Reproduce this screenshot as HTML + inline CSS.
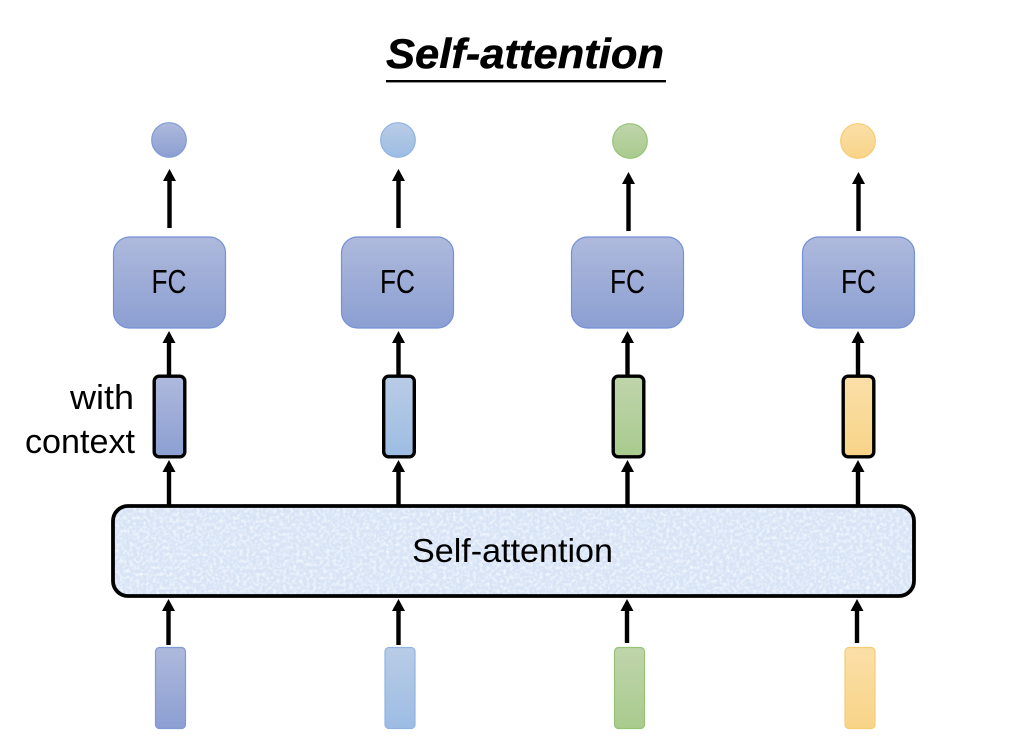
<!DOCTYPE html>
<html>
<head>
<meta charset="utf-8">
<style>
html,body{margin:0;padding:0;background:#fff;width:1024px;height:752px;overflow:hidden}
svg{display:block}
text{font-family:"Liberation Sans",sans-serif;fill:#000}
</style>
</head>
<body>
<svg width="1024" height="752" viewBox="0 0 1024 752" xmlns="http://www.w3.org/2000/svg">
<defs>
<linearGradient id="p" x1="0" y1="0" x2="0" y2="1"><stop offset="0" stop-color="#aeb9dc"/><stop offset="1" stop-color="#8c9fd2"/></linearGradient>
<linearGradient id="b" x1="0" y1="0" x2="0" y2="1"><stop offset="0" stop-color="#b9cce6"/><stop offset="1" stop-color="#9dbce3"/></linearGradient>
<linearGradient id="g" x1="0" y1="0" x2="0" y2="1"><stop offset="0" stop-color="#bfd4ab"/><stop offset="1" stop-color="#a9cb8e"/></linearGradient>
<linearGradient id="y" x1="0" y1="0" x2="0" y2="1"><stop offset="0" stop-color="#fadfa8"/><stop offset="1" stop-color="#f8d488"/></linearGradient>
<filter id="tex" x="0" y="0" width="100%" height="100%">
<feTurbulence type="fractalNoise" baseFrequency="0.3" numOctaves="3" seed="7" result="n"/>
<feColorMatrix in="n" type="matrix" values="0 0 0 0 0.95  0 0 0 0 0.97  0 0 0 0 1  0 0 0 2 -0.85"/>
</filter>
<clipPath id="bigclip"><rect x="113" y="506" width="801" height="90" rx="15"/></clipPath>
</defs>
<rect width="1024" height="752" fill="#fff"/>

<text x="386" y="68" font-size="42" font-weight="bold" font-style="italic" stroke="#000" stroke-width="0.5" textLength="278" lengthAdjust="spacingAndGlyphs">Self-attention</text>
<rect x="386" y="80" width="280" height="2.4" fill="#000"/>

<g stroke-width="1.2">
<circle cx="169" cy="140" r="17.3" fill="url(#p)" stroke="#8099d8"/>
<circle cx="398" cy="140" r="17.3" fill="url(#b)" stroke="#8fb3e3"/>
<circle cx="630" cy="141" r="17.3" fill="url(#g)" stroke="#97c474"/>
<circle cx="858" cy="141" r="17.3" fill="url(#y)" stroke="#f6cc70"/>
</g>

<g fill="url(#p)" stroke="#7590d6" stroke-width="1.2">
<rect x="113.5" y="237" width="112" height="91" rx="16"/>
<rect x="341.5" y="237" width="112" height="91" rx="16"/>
<rect x="571.5" y="237" width="112" height="91" rx="16"/>
<rect x="802.5" y="237" width="112" height="91" rx="16"/>
</g>
<g font-size="33" text-anchor="middle">
<text x="169" y="293" textLength="35" lengthAdjust="spacingAndGlyphs">FC</text>
<text x="397.5" y="293" textLength="35" lengthAdjust="spacingAndGlyphs">FC</text>
<text x="627.5" y="293" textLength="35" lengthAdjust="spacingAndGlyphs">FC</text>
<text x="858.5" y="293" textLength="35" lengthAdjust="spacingAndGlyphs">FC</text>
</g>

<g stroke="#000" stroke-width="3.4">
<rect x="154.2" y="376.2" width="30.6" height="80.6" rx="5" fill="url(#p)"/>
<rect x="383.7" y="376.2" width="30.6" height="80.6" rx="5" fill="url(#b)"/>
<rect x="613.2" y="376.2" width="30.6" height="80.6" rx="5" fill="url(#g)"/>
<rect x="843.2" y="376.2" width="30.6" height="80.6" rx="5" fill="url(#y)"/>
</g>

<rect x="113" y="506" width="801" height="90" rx="15" fill="#d8e4f6"/>
<g clip-path="url(#bigclip)"><rect x="113" y="506" width="801" height="90" filter="url(#tex)"/></g>
<rect x="113" y="506" width="801" height="90" rx="15" fill="none" stroke="#000" stroke-width="3.8"/>
<text x="412" y="562" font-size="33" textLength="201" lengthAdjust="spacingAndGlyphs">Self-attention</text>

<g font-size="34" text-anchor="end">
<text x="134" y="409" textLength="64" lengthAdjust="spacingAndGlyphs">with</text>
<text x="135" y="453" textLength="110" lengthAdjust="spacingAndGlyphs">context</text>
</g>

<g stroke-width="1.2">
<rect x="155.5" y="647.5" width="30" height="81" rx="4" fill="url(#p)" stroke="#8099d8"/>
<rect x="385" y="647.5" width="30" height="81" rx="4" fill="url(#b)" stroke="#8fb3e3"/>
<rect x="614.5" y="647.5" width="30" height="81" rx="4" fill="url(#g)" stroke="#97c474"/>
<rect x="845" y="647.5" width="30" height="81" rx="4" fill="url(#y)" stroke="#f6cc70"/>
</g>

<g stroke="#000" stroke-width="4.4" fill="none">
<path d="M169.5 228V178M398.5 228V178M628.5 231V181M858.5 231V181"/>
<path d="M169 377V340M398.5 377V340M627.5 377V340M858 377V340"/>
<path d="M169 505V468M398.5 505V468M627.5 505V468M858 505V468"/>
<path d="M168.5 645V608M398.5 645V608M627 643V608M857 643V608"/>
</g>
<g fill="#000">
<path d="M169.5 169l-6.5 12h13zM398.5 169l-6.5 12h13zM628.5 172l-6.5 12h13zM858.5 172l-6.5 12h13z"/>
<path d="M169 331l-6.5 12h13zM398.5 331l-6.5 12h13zM627.5 331l-6.5 12h13zM858 331l-6.5 12h13z"/>
<path d="M169 460l-6.5 12h13zM398.5 460l-6.5 12h13zM627.5 460l-6.5 12h13zM858 460l-6.5 12h13z"/>
<path d="M168.5 599l-6.5 12h13zM398.5 599l-6.5 12h13zM627 599l-6.5 12h13zM857 599l-6.5 12h13z"/>
</g>
</svg>
</body>
</html>
